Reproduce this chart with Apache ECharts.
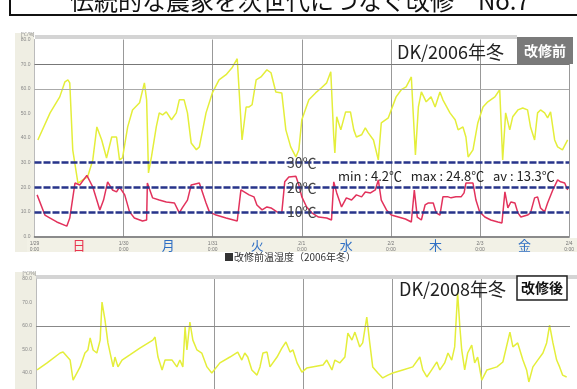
<!DOCTYPE html>
<html>
<head>
<meta charset="utf-8">
<script src="https://cdn.jsdelivr.net/npm/echarts@6/dist/echarts.min.js"></script>
<style>
  html, body { margin: 0; padding: 0; background: #fff; width: 577px; height: 389px; overflow: hidden; }
  /* the lower panel continues below the visible area */
  #chart { width: 577px; height: 480px; }
</style>
</head>
<body>
<div id="chart"></div>
<script>
// Winter 2006 (before renovation): hours from Sunday 0:00, temperature (℃) and humidity (%)
const hum2006Hours = [0.9, 4.2, 6.8, 8.2, 9.0, 9.5, 10.3, 11.7, 13.0, 14.3, 15.7, 16.8, 18.1, 19.4, 20.8, 22.1, 22.9, 23.7,
  25.1, 26.4, 28.3, 29.6, 30.2, 30.7, 31.5, 32.8, 33.6, 34.5, 35.5, 36.9, 38.2, 39.0, 40.3, 41.2, 42.2, 43.6,
  44.4, 46.2, 47.9, 49.7, 51.6, 53.2, 54.6, 55.1, 55.9, 57.0, 57.8, 58.6, 59.7, 61.0, 62.6, 63.7, 65.0, 66.6,
  67.7, 69.0, 70.4, 71.2, 72.0, 73.9, 75.7, 77.3, 78.7, 79.8, 80.6, 80.9, 81.4, 82.5, 83.8, 85.1, 86.0, 86.7,
  88.1, 89.1, 89.9, 91.3, 92.6, 93.4, 95.3, 97.4, 98.8, 100.1, 101.5, 102.0, 102.6, 103.4, 104.2, 105.5, 106.8,
  107.9, 109.2, 110.0, 111.9, 113.3, 114.1, 115.4, 116.2, 116.8, 118.1, 119.4, 120.8, 122.1, 124.0, 125.3,
  126.1, 126.9, 128.0, 128.8, 130.2, 131.5, 132.8, 133.6, 134.7, 135.5, 136.3, 137.4, 138.2, 139.0, 140.1,
  140.9, 142.2, 143.6];
const hum2006Values = [39.2, 50.2, 56.7, 62.8, 63.6, 62.4, 35.2, 21.7, 23.0, 24.2, 31.1, 44.5, 39.2, 31.9, 40.4, 40.4, 31.1, 31.9,
  44.5, 51.4, 54.3, 62.4, 55.5, 25.8, 32.3, 44.5, 50.2, 49.4, 50.6, 47.4, 50.2, 55.5, 55.5, 50.2, 38.0, 35.2,
  36.4, 50.2, 58.3, 63.6, 65.7, 68.5, 72.2, 59.6, 39.2, 52.6, 52.6, 53.5, 63.6, 64.8, 67.7, 66.5, 58.7, 58.3,
  43.3, 36.4, 32.3, 35.2, 47.4, 55.5, 58.3, 60.4, 62.4, 66.9, 40.4, 33.9, 48.6, 43.3, 50.6, 50.6, 43.3, 40.4,
  41.3, 44.1, 42.1, 39.2, 31.1, 46.1, 48.2, 56.7, 59.6, 60.8, 64.8, 50.2, 33.1, 52.6, 58.7, 54.7, 56.7,
  52.6, 58.7, 55.5, 50.2, 47.4, 43.3, 44.5, 40.4, 32.3, 35.2, 46.1, 52.6, 54.7, 56.7, 59.6,
  31.1, 50.2, 43.3, 48.6, 51.4, 52.2, 51.4, 44.5, 39.2, 50.2, 51.4, 50.2, 48.2, 50.6, 39.2,
  36.4, 35.2, 39.2];

const temp2006Hours = [0.7, 2.8, 4.2, 6.0, 8.7, 9.5, 10.9, 12.2, 14.1, 15.7, 17.6, 18.6, 19.7, 21.0, 22.1, 22.9, 24.3, 25.6,
  26.9, 29.1, 30.2, 30.4, 31.8, 33.6, 35.5, 37.7, 39.0, 39.8, 41.2, 42.2, 44.4, 46.2, 47.1, 48.9, 51.6, 54.6,
  55.6, 57.8, 59.1, 59.9, 61.3, 62.6, 63.7, 65.3, 66.6, 67.4, 68.5, 70.4, 71.2, 72.0, 73.3, 74.7, 76.5, 78.7,
  80.0, 80.6, 81.4, 82.7, 84.0, 85.4, 86.7, 88.1, 89.1, 90.5, 91.8, 92.6, 93.4, 94.8, 96.1, 98.0, 99.9, 101.5,
  102.3, 103.1, 104.2, 105.2, 106.0, 107.4, 108.2, 109.2, 110.0, 111.4, 112.2, 113.5, 114.9, 115.7, 116.2,
  117.3, 118.1, 118.9, 119.9, 121.3, 122.9, 124.8, 125.9, 126.7, 127.5, 128.3, 129.4, 130.2, 131.0, 132.8,
  133.6, 134.7, 135.5, 136.3, 137.4, 138.2, 139.6, 140.9, 141.7, 142.8, 143.6];
const temp2006Values = [16.9, 8.7, 7.5, 5.9, 4.2, 7.5, 21.7, 20.9, 24.8, 20.1, 10.8, 14.8, 22.2, 18.9, 18.1, 20.1, 16.9, 10.0,
  7.5, 6.3, 6.7, 21.7, 15.7, 14.8, 14.0, 13.6, 9.6, 11.6, 14.8, 20.9, 21.7, 13.6, 10.0, 8.7, 7.5, 6.3,
  18.9, 16.9, 16.1, 12.8, 10.8, 12.0, 11.6, 10.0, 9.6, 22.2, 24.2, 24.5, 20.9, 16.1, 12.0, 9.6, 7.9, 7.5,
  6.7, 22.2, 17.7, 12.0, 15.7, 14.8, 16.9, 16.1, 18.1, 17.7, 18.9, 23.0, 14.8, 10.8, 8.7, 7.9, 7.1, 5.9,
  18.9, 7.9, 6.7, 12.8, 13.6, 13.6, 9.6, 8.7, 16.1, 16.1, 15.7, 16.1, 16.1, 17.7, 21.7,
  21.7, 21.7, 14.8, 10.0, 7.9, 6.7, 5.9, 5.5, 18.1, 11.6, 14.0, 13.6, 9.6, 7.9, 8.7,
  9.6, 15.7, 16.1, 11.6, 10.0, 13.6, 18.9, 23.0, 22.2, 21.7, 18.9];
const temp2006Average = 13.3;

// Winter 2008 (after renovation): humidity (%)
const hum2008Hours = [0.3, 3.0, 6.5, 7.3, 9.2, 10.0, 11.9, 13.2, 14.0, 14.6, 15.4, 16.4, 17.3, 17.8, 18.6, 19.4, 20.8, 21.3,
  22.1, 23.2, 25.3, 28.0, 31.5, 32.1, 32.9, 34.0, 34.8, 36.7, 38.0, 38.8, 39.6, 40.2, 40.7, 41.5, 42.0, 42.3,
  43.4, 44.7, 46.1, 47.4, 49.6, 52.3, 54.4, 55.5, 56.3, 57.1, 58.2, 59.6, 60.4, 61.2, 62.3, 63.1, 65.0, 66.3,
  67.4, 68.5, 69.3, 70.4, 71.7, 73.0, 77.4, 78.4, 79.8, 80.6, 81.9, 83.3, 84.1, 85.2, 86.0, 87.3, 88.1, 89.2,
  90.0, 90.8, 92.2, 93.5, 94.9, 96.2, 98.9, 101.6, 103.5, 104.3, 105.4, 106.7, 108.1, 108.9, 110.2, 111.1,
  112.1, 112.9, 113.7, 114.3, 114.8, 115.6, 116.4, 117.5, 118.3, 119.1, 120.2, 121.6, 124.3, 125.9, 127.8,
  128.6, 129.9, 131.3, 132.3, 132.9, 134.0, 135.3, 136.7, 137.7, 138.5, 139.4, 140.4, 141.2, 142.0, 143.1];
const hum2008Values = [41.3, 44.3, 48.5, 48.9, 45.5, 37.0, 42.6, 48.5, 49.8, 54.9, 49.8, 48.5, 54.0, 70.2, 62.6, 52.8, 42.6, 46.8,
  42.6, 45.5, 47.7, 50.6, 54.0, 55.3, 46.8, 41.3, 45.5, 45.5, 42.6, 45.5, 42.6, 59.6, 49.8, 61.7, 61.7, 54.0,
  49.8, 48.5, 42.6, 40.0, 44.3, 46.8, 48.9, 45.5, 48.5, 46.8, 41.3, 39.1, 42.6, 48.5, 48.9, 42.6, 46.8, 50.6,
  53.2, 48.9, 49.8, 44.3, 40.4, 42.1, 43.4, 45.5, 41.3, 45.5, 44.3, 46.8, 57.0, 54.0, 57.4, 51.1, 52.8, 63.8,
  52.8, 42.6, 40.0, 37.9, 39.1, 40.0, 41.3, 42.6, 46.8, 41.3, 38.3, 41.3, 44.7, 41.3, 44.3, 48.5,
  45.5, 51.1, 74.0, 59.6, 49.8, 41.3, 48.5, 51.9, 44.3, 46.8, 37.0, 41.3, 42.6, 44.7, 57.4,
  51.1, 52.8, 45.5, 41.3, 36.2, 42.6, 45.5, 48.5, 52.8, 60.4, 52.8, 45.5, 42.6, 39.1, 38.3];

// Axis labels
const dayNames = ['日', '月', '火', '水', '木', '金'];
const dateLabels = ['1/29', '1/30', '1/31', '2/1', '2/2', '2/3', '2/4'];
const tempGuides = [10, 20, 30];

const pair = (xs, ys) => xs.map((x, i) => [x, ys[i]]);

const FONT = '"Noto Sans CJK JP", "Noto Sans", sans-serif';
const chart = echarts.init(document.getElementById('chart'), null, { renderer: 'canvas' });

const tMin = Math.min(...temp2006Values);
const tMax = Math.max(...temp2006Values);
const statText = 'min : ' + tMin.toFixed(1) + '℃   max : ' + tMax.toFixed(1) + '℃   av : ' + temp2006Average.toFixed(1) + '℃';

const valueAxis = (gridIndex) => ({
  type: 'value', gridIndex, min: 0, max: 80, interval: 10,
  name: '[℃/%]', nameLocation: 'end', nameGap: 2,
  nameTextStyle: { fontSize: 5, color: '#888', align: 'right', padding: [0, 0, 0, 0] },
  axisLine: { show: true, lineStyle: { color: '#bbb' } },
  axisTick: { show: false },
  axisLabel: { fontSize: 5, color: '#888', margin: 4, formatter: v => v.toFixed(1) },
  splitLine: { show: false }
});

const option = {
  animation: false,
  backgroundColor: '#fff',
  grid: [
    { left: 34.5, right: 5, top: 39.5, height: 197 },
    { left: 36, right: 7, top: 279, height: 188 }
  ],
  xAxis: [
    {
      type: 'value', gridIndex: 0, min: 0, max: 144, interval: 24,
      axisLine: { lineStyle: { color: '#666', width: 1.5 } },
      axisTick: { show: false },
      axisLabel: {
        fontSize: 5, lineHeight: 6, color: '#777', margin: 4,
        formatter: (v) => dateLabels[Math.round(v / 24)] + '\n0:00'
      },
      splitLine: { show: true, lineStyle: { color: '#999', width: 1 } }
    },
    {
      type: 'category', gridIndex: 0, data: dayNames, position: 'bottom',
      boundaryGap: true,
      axisLine: { show: false }, axisTick: { show: false },
      axisLabel: {
        fontSize: 13, margin: 2, fontFamily: FONT,
        color: (v) => (v === '日' ? '#e8344e' : '#2f6fc4')
      }
    },
    {
      type: 'value', gridIndex: 1, min: 0, max: 144, interval: 24,
      axisLine: { show: false }, axisTick: { show: false },
      axisLabel: { show: false },
      splitLine: {
        show: true,
        lineStyle: { color: ['transparent', 'transparent', '#999', '#999', '#999', '#999', 'transparent'], width: 1 }
      }
    }
  ],
  yAxis: [valueAxis(0), valueAxis(1)],
  series: [
    {
      name: '湿度2006', type: 'line', xAxisIndex: 0, yAxisIndex: 0,
      data: pair(hum2006Hours, hum2006Values),
      showSymbol: false, lineStyle: { color: '#e4ee3a', width: 1.5 }, z: 3,
      markLine: {
        silent: true, symbol: 'none', label: { show: false },
        data: [
          { yAxis: 70, lineStyle: { color: '#777', width: 1.2, type: 'solid' } },
          { yAxis: 60, lineStyle: { color: '#aaa', width: 1.2, type: 'solid' } }
        ]
      }
    },
    {
      name: '温度2006', type: 'line', xAxisIndex: 0, yAxisIndex: 0,
      data: pair(temp2006Hours, temp2006Values),
      showSymbol: false, lineStyle: { color: '#e2325c', width: 1.5 }, z: 4,
      markLine: {
        silent: true, symbol: 'none',
        lineStyle: { color: '#27348a', width: 2.5, type: [7, 2] },
        label: {
          show: true, position: 'middle', distance: -7,
          formatter: (p) => p.value + '℃',
          fontSize: 14, color: '#444', fontFamily: FONT
        },
        data: tempGuides.map(v => ({ yAxis: v }))
      }
    },
    {
      name: '湿度2008', type: 'line', xAxisIndex: 2, yAxisIndex: 1,
      data: pair(hum2008Hours, hum2008Values),
      showSymbol: false, lineStyle: { color: '#e4ee3a', width: 1.5 }, z: 3,
      markLine: {
        silent: true, symbol: 'none', label: { show: false },
        data: [{ yAxis: 60, lineStyle: { color: '#888', width: 1.2, type: 'solid' } }]
      }
    }
  ],
  graphic: [
    // header box
    { type: 'rect', z: 50, shape: { x: 10, y: -30, width: 620, height: 45 },
      style: { fill: '#fff', stroke: '#111', lineWidth: 2 } },
    { type: 'text', z: 51, x: 70, y: 13,
      style: { text: '伝統的な農家を次世代につなぐ改修　No.7', font: '24px ' + FONT, fill: '#111',
        textVerticalAlign: 'bottom' } },
    // label columns and bands
    { type: 'rect', z: -5, shape: { x: 15, y: 33, width: 19, height: 219 }, style: { fill: '#efeee3' } },
    { type: 'rect', z: -5, shape: { x: 27, y: 238, width: 550, height: 14 }, style: { fill: '#f2f1e6' } },
    { type: 'rect', z: -5, shape: { x: 35, y: 35, width: 482, height: 4 }, style: { fill: '#d4d4d4' } },
    { type: 'rect', z: -5, shape: { x: 15, y: 272, width: 21, height: 200 }, style: { fill: '#efeee3' } },
    { type: 'rect', z: -5, shape: { x: 36, y: 275, width: 541, height: 4 }, style: { fill: '#d4d4d4' } },
    // chart 1 captions
    { type: 'text', z: 60, x: 397, y: 52,
      style: { text: 'DK/2006年冬', font: '18px ' + FONT, fill: '#222', textVerticalAlign: 'middle' } },
    { type: 'rect', z: 60, shape: { x: 517, y: 37, width: 56, height: 27 }, style: { fill: '#7a7a7a' } },
    { type: 'text', z: 61, x: 545, y: 51,
      style: { text: '改修前', font: 'bold 14px ' + FONT, fill: '#fff', textAlign: 'center', textVerticalAlign: 'middle' } },
    { type: 'text', z: 60, x: 338, y: 176,
      style: { text: statText, font: '13px ' + FONT, fill: '#222', textVerticalAlign: 'middle' } },
    { type: 'text', z: 60, x: 290, y: 257,
      style: { text: '■改修前温湿度（2006年冬）', font: '10px ' + FONT, fill: '#333', textAlign: 'center', textVerticalAlign: 'middle' } },
    // chart 2 captions
    { type: 'text', z: 60, x: 399, y: 289,
      style: { text: 'DK/2008年冬', font: '18px ' + FONT, fill: '#222', textVerticalAlign: 'middle' } },
    { type: 'rect', z: 60, shape: { x: 517, y: 276, width: 50, height: 24 },
      style: { fill: '#fff', stroke: '#222', lineWidth: 1.5 } },
    { type: 'text', z: 61, x: 542, y: 288,
      style: { text: '改修後', font: 'bold 14px ' + FONT, fill: '#111', textAlign: 'center', textVerticalAlign: 'middle' } }
  ]
};

chart.setOption(option);
</script>
</body>
</html>
